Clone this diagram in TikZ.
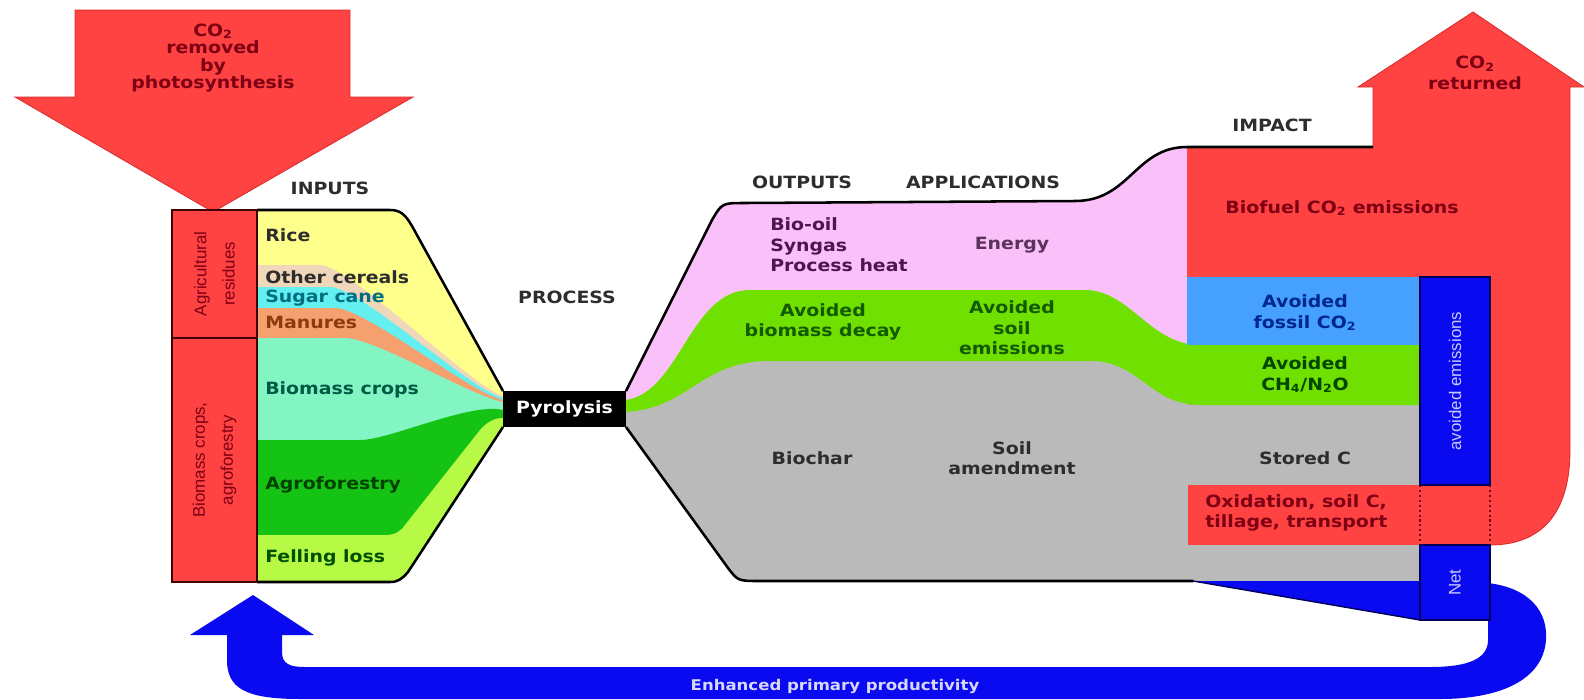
\documentclass[tikz,border=0pt]{standalone}
\usepackage{fontspec}
\setmainfont{DejaVu Sans}[FakeStretch=1.12]
\newfontfamily\narrowsans{Liberation Sans}

\definecolor{co2red}{RGB}{255,66,66}
\definecolor{co2edge}{RGB}{215,45,45}
\definecolor{darkred}{RGB}{125,0,20}
\definecolor{headgray}{RGB}{45,45,45}
\definecolor{rice}{RGB}{255,255,140}
\definecolor{cereal}{RGB}{240,215,185}
\definecolor{sugar}{RGB}{100,240,240}
\definecolor{manure}{RGB}{245,160,110}
\definecolor{biocrop}{RGB}{130,245,195}
\definecolor{agro}{RGB}{20,195,20}
\definecolor{felling}{RGB}{182,250,70}
\definecolor{energy}{RGB}{249,192,249}
\definecolor{avgreen}{RGB}{112,224,0}
\definecolor{charg}{RGB}{186,186,186}
\definecolor{fossil}{RGB}{70,160,255}
\definecolor{netblue}{RGB}{10,10,240}
\definecolor{navy}{RGB}{0,0,90}

\tikzset{
  lbl/.style={font=\fontsize{12}{14.5}\selectfont\bfseries, align=center, inner sep=0pt},
  head/.style={lbl, text=headgray},
  side/.style={font=\narrowsans\fontsize{12}{20}\selectfont, align=center, inner sep=0pt, rotate=90, text=darkred},
  vlabel/.style={font=\narrowsans\fontsize{12}{14}\selectfont, inner sep=0pt, rotate=90, text={rgb,255:red,200;green,200;blue,255}},
  outline/.style={draw=black, line width=1.8pt, line join=round},
  redbox/.style={fill=co2red, draw={rgb,255:red,60;green,0;blue,0}, line width=1.5pt},
  bluebox/.style={fill=netblue, draw=navy, line width=1.5pt},
}

\begin{document}
\begin{tikzpicture}[x=0.025cm,y=-0.025cm]
\useasboundingbox (0,0) rectangle (1584,699);

\fill[netblue] (1488,583) .. controls (1530,588) and (1548,612) .. (1546,640) .. controls (1543,680) and (1500,699) .. (1440,699) -- (300,699) .. controls (245,699) and (227,688) .. (227,660) -- (227,635) -- (190,635) -- (253,595) -- (314,635) -- (282,635) -- (282,652) .. controls (282,664) and (290,667) .. (305,667) -- (1430,667) .. controls (1470,667) and (1488,658) .. (1488,640) -- cycle;

\filldraw[fill=co2red, draw=co2edge, line width=0.6pt] (75,10) -- (350,10) -- (350,97) -- (413,97) -- (213,212) -- (15,97) -- (75,97) -- cycle;
\filldraw[fill=co2red, draw=co2edge, line width=0.6pt] (1187,147) -- (1373,147) -- (1373,87) -- (1358,87) -- (1473,12) -- (1584,87) -- (1570,87) -- (1570,450) .. controls (1570,515) and (1540,545) .. (1490,545) -- (1187,545) -- cycle;

\begin{scope}
\clip (257,210) -- (390,210) .. controls (400,210) and (405,214) .. (412,226) -- (503,391) -- (503,427) -- (408,572) .. controls (402,579) and (398,582) .. (390,582) -- (257,582) -- cycle;
\fill[rice] (250,200) rectangle (510,600);
\fill[cereal] (250,265) -- (320,265) .. controls (350,265) and (470,386) .. (503,396) -- (520,700) -- (250,700) -- cycle;
\fill[sugar] (250,287) -- (330,287) .. controls (360,287) and (470,390) .. (503,398) -- (520,700) -- (250,700) -- cycle;
\fill[manure] (250,308) -- (335,308) .. controls (365,308) and (470,393) .. (503,400) -- (520,700) -- (250,700) -- cycle;
\fill[biocrop] (250,338) -- (345,338) .. controls (375,338) and (470,396) .. (503,402) -- (520,700) -- (250,700) -- cycle;
\fill[agro] (250,440) -- (360,440) .. controls (390,440) and (470,402) .. (503,410) -- (520,700) -- (250,700) -- cycle;
\fill[felling] (250,535) -- (385,535) .. controls (395,535) and (400,532) .. (405,525) -- (480,430) .. controls (488,421) and (495,418) .. (503,418) -- (520,700) -- (250,700) -- cycle;
\end{scope}
\draw[outline] (257,210) -- (390,210) .. controls (400,210) and (405,214) .. (412,226) -- (503,391);
\draw[outline] (257,582) -- (390,582) .. controls (398,582) and (402,579) .. (408,572) -- (503,427);

\fill[energy] (626,391) -- (712,220) .. controls (722,203) .. (745,203) -- (1075,201) .. controls (1130,201) and (1135,147) .. (1187,147) -- (1187,420) -- (626,420) -- cycle;
\fill[charg] (626,412) .. controls (690,408) and (700,361) .. (770,361) -- (1090,361) .. controls (1140,361) and (1150,405) .. (1200,405) -- (1420,405) -- (1420,581) -- (760,581) .. controls (738,581) .. (728,568) -- (626,427) -- cycle;
\fill[avgreen] (626,400) .. controls (680,392) and (690,290) .. (750,290) -- (1085,290) .. controls (1130,290) and (1150,345) .. (1200,345) -- (1420,345) -- (1420,405) -- (1200,405) .. controls (1150,405) and (1140,361) .. (1090,361) -- (770,361) .. controls (700,361) and (690,408) .. (626,412) -- cycle;
\fill[fossil] (1187,277) rectangle (1420,345);
\fill[co2red] (1188,485) rectangle (1420,545);
\fill[netblue] (1193,581) -- (1420,581) -- (1420,620) -- cycle;
\draw[navy, line width=1pt] (1193,581) -- (1420,620);
\draw[darkred, line width=1.5pt, dotted] (1420,485) -- (1420,545);
\draw[darkred, line width=1.5pt, dotted] (1490,485) -- (1490,545);

\draw[outline] (626,391) -- (712,220) .. controls (722,203) .. (745,203) -- (1075,201) .. controls (1130,201) and (1135,147) .. (1187,147) -- (1373,147);
\draw[outline] (626,427) -- (728,568) .. controls (738,581) .. (760,581) -- (1193,581);

\fill[black] (503,391) rectangle (626,427) node[pos=.5, lbl, text=white] (pyro) {Pyrolysis};
\draw[redbox] (172,210) rectangle (257,338) node[pos=.5, side] (agres) {Agricultural\\residues};
\draw[redbox] (172,338) rectangle (257,582) node[pos=.5, side] (bmcrops) {Biomass crops,\\agroforestry};
\draw[bluebox] (1420,277) rectangle (1490,485) node[pos=.5, vlabel] (avoidem) {avoided emissions};
\draw[bluebox] (1420,545) rectangle (1490,620) node[pos=.5, vlabel] (net) {Net};

\node[lbl, text=darkred, font=\fontsize{12}{12.5}\selectfont\bfseries] (removed) at (213,58) {CO\textsubscript{2}\\removed\\by\\photosynthesis};
\node[lbl, text=darkred] (returned) at (1475,73) {CO\textsubscript{2}\\returned};

\node[head] (inputs) at (330,188) {INPUTS};
\node[head] (process) at (567,297) {PROCESS};
\node[head] (outputs) at (802,182) {OUTPUTS};
\node[head] (applic) at (983,182) {APPLICATIONS};
\node[head] (impact) at (1272,125) {IMPACT};

\node[lbl, anchor=west, text=headgray] (rice) at (265,235) {Rice};
\node[lbl, anchor=west, text=headgray] (cereals) at (265,277) {Other cereals};
\node[lbl, anchor=west, text={rgb,255:red,0;green,110;blue,130}] (sugarcane) at (265,298) {Sugar cane};
\node[lbl, anchor=west, text={rgb,255:red,140;green,60;blue,10}] (manures) at (265,322) {Manures};
\node[lbl, anchor=west, text={rgb,255:red,0;green,90;blue,70}] (biomass) at (265,390) {Biomass crops};
\node[lbl, anchor=west, text={rgb,255:red,0;green,65;blue,0}] (agrofor) at (265,485) {Agroforestry};
\node[lbl, anchor=west, text={rgb,255:red,0;green,80;blue,0}] (fellloss) at (265,558) {Felling loss};

\node[lbl, anchor=west, align=left, text={rgb,255:red,80;green,20;blue,80}] (biooil) at (770,245) {Bio-oil\\Syngas\\Process heat};
\node[lbl, text={rgb,255:red,90;green,50;blue,90}] (energyapp) at (1012,245) {Energy};
\node[lbl, text={rgb,255:red,20;green,90;blue,0}] (avdecay) at (823,322) {Avoided\\biomass decay};
\node[lbl, text={rgb,255:red,20;green,90;blue,0}] (avsoil) at (1012,328) {Avoided\\soil\\emissions};
\node[lbl, text=headgray] (biochar) at (812,458) {Biochar};
\node[lbl, text=headgray] (soilamend) at (1012,458) {Soil\\amendment};

\node[lbl, text=darkred] (biofuel) at (1342,208) {Biofuel CO\textsubscript{2} emissions};
\node[lbl, text={rgb,255:red,0;green,40;blue,140}] (avfossil) at (1305,313) {Avoided\\fossil CO\textsubscript{2}};
\node[lbl, text={rgb,255:red,0;green,70;blue,0}] (avch4) at (1305,375) {Avoided\\CH\textsubscript{4}/N\textsubscript{2}O};
\node[lbl, text=headgray] (storedc) at (1305,458) {Stored C};
\node[lbl, anchor=west, align=left, text=darkred] (oxid) at (1205,513) {Oxidation, soil C,\\tillage, transport};

\node[lbl, text={rgb,255:red,215;green,215;blue,255}, font=\fontsize{10.5}{12}\selectfont\bfseries] (enhanced) at (835,686) {Enhanced primary productivity};
\end{tikzpicture}
\end{document}
